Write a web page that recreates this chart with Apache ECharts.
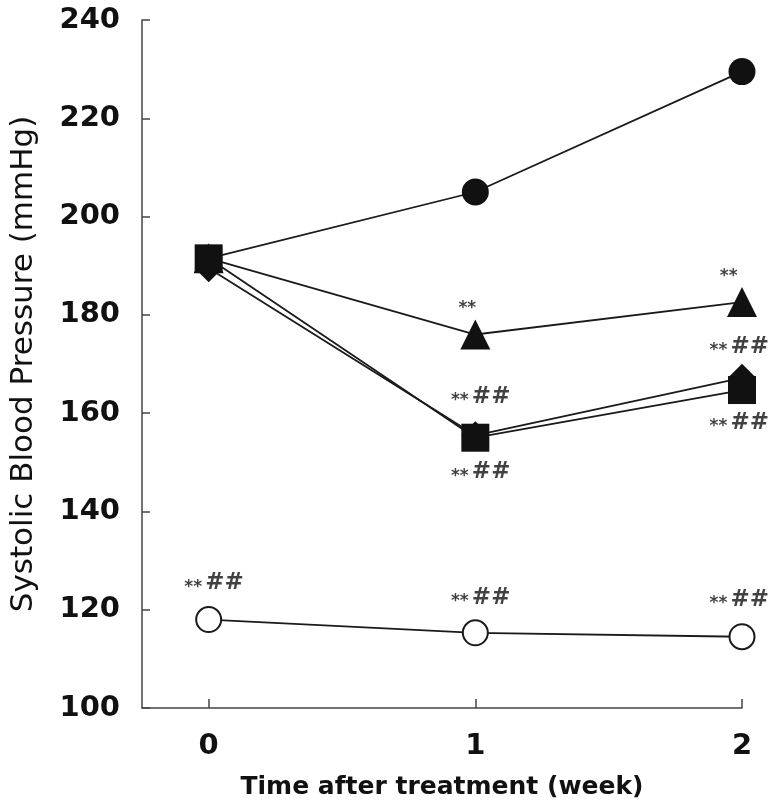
<!DOCTYPE html>
<html>
<head>
<meta charset="utf-8">
<script src="https://cdn.jsdelivr.net/npm/echarts@6/dist/echarts.min.js"></script>
<style>
html,body{margin:0;padding:0;background:#fff;}
#chart{width:773px;height:809px;}
</style>
</head>
<body>
<div id="chart"></div>
<script>
// ---- data ----
var weeks = [0, 1, 2];
var xTicks = [0, 1, 2];
var filledCircle = [191.5, 205, 229.5];
var filledTriangle = [191.5, 176, 182.6];
var filledSquare = [191.5, 155, 164.7];
var filledDiamond = [189.5, 155.5, 167.2];
var openCircle = [118, 115.3, 114.5];

// significance annotations: week, value, text
var annWeek = [0.97, 1.02, 1.02, 1.95, 1.99, 1.99, 0.02, 1.02, 1.99];
var annValue = [182, 163.3, 148, 188.7, 173.5, 158, 125.4, 122.4, 122];
var annText = ['**', '** ##', '** ##', '**', '** ##', '** ##', '** ##', '** ##', '** ##'];

var FONT = '"DejaVu Sans", "Liberation Sans", sans-serif';

function pairs(vals) {
  return weeks.map(function (w, i) { return [w, vals[i]]; });
}

function lineSeries(name, vals, symbol, size, fill) {
  return {
    name: name,
    type: 'line',
    data: pairs(vals),
    symbol: symbol,
    symbolSize: size,
    showAllSymbol: true,
    lineStyle: { color: '#1a1a1a', width: 1.8 },
    itemStyle: { color: fill, borderColor: '#1a1a1a', borderWidth: fill === '#ffffff' ? 2 : 0 },
    emphasis: { disabled: true },
    animation: false,
    z: 3
  };
}

function richText(t) {
  var parts = t.split(' ');
  var s = '{s|' + parts[0] + '}';
  if (parts[1]) s += '{g| }{h|' + parts[1] + '}';
  return s;
}

var annData = annWeek.map(function (w, i) {
  return { value: [w, annValue[i]], label: { formatter: richText(annText[i]) } };
});

var chart = echarts.init(document.getElementById('chart'), null, { renderer: 'canvas' });
chart.setOption({
  backgroundColor: '#ffffff',
  animation: false,
  grid: { left: 141, right: 31, top: 20, bottom: 101, containLabel: false },
  xAxis: {
    type: 'value',
    min: -0.25,
    max: 2,
    name: 'Time after treatment (week)',
    nameLocation: 'middle',
    nameGap: 67,
    nameTextStyle: { fontFamily: FONT, fontSize: 25, fontWeight: 'bold', color: '#111' },
    axisLine: { show: true, onZero: false, lineStyle: { color: '#444', width: 1.5 } },
    axisTick: { show: true, inside: true, length: 9, customValues: xTicks, lineStyle: { color: '#444', width: 1.5 } },
    axisLabel: { customValues: xTicks, fontFamily: FONT, fontSize: 29, fontWeight: 'bold', color: '#111', margin: 24 },
    splitLine: { show: false }
  },
  yAxis: {
    type: 'value',
    min: 100,
    max: 240,
    interval: 20,
    name: 'Systolic Blood Pressure (mmHg)',
    nameLocation: 'middle',
    nameGap: 103,
    nameTextStyle: { fontFamily: FONT, fontSize: 31, color: '#111' },
    axisLine: { show: true, onZero: false, lineStyle: { color: '#444', width: 1.5 } },
    axisTick: { show: true, inside: true, length: 8, lineStyle: { color: '#444', width: 1.5 } },
    axisLabel: { fontFamily: FONT, fontSize: 29, fontWeight: 'bold', color: '#111', margin: 22 },
    splitLine: { show: false }
  },
  series: [
    lineSeries('open circle', openCircle, 'circle', 25, '#ffffff'),
    lineSeries('triangle', filledTriangle, 'triangle', 30, '#111111'),
    lineSeries('diamond', filledDiamond, 'diamond', 28, '#111111'),
    lineSeries('square', filledSquare, 'rect', 28, '#111111'),
    lineSeries('filled circle', filledCircle, 'circle', 27, '#111111'),
    {
      name: 'annotations',
      type: 'scatter',
      data: annData,
      symbolSize: 0,
      silent: true,
      animation: false,
      z: 5,
      label: {
        show: true,
        position: 'inside',
        align: 'center',
        verticalAlign: 'middle',
        rich: {
          s: { fontFamily: FONT, fontSize: 17, fontWeight: 'bold', color: '#111', padding: [8, 0, 0, 0] },
          g: { fontFamily: FONT, fontSize: 10 },
          h: { fontFamily: FONT, fontSize: 23, fontWeight: 'bold', color: '#111' }
        }
      }
    }
  ]
});
</script>
</body>
</html>
